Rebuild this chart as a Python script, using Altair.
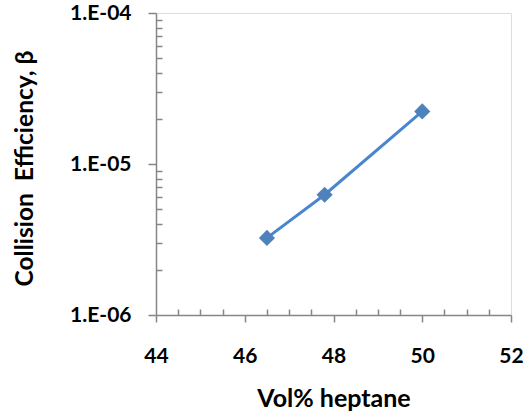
import altair as alt
import pandas as pd

vol_heptane = [46.5, 47.8, 50.0]
beta = [3.24e-6, 6.26e-6, 2.23e-5]

x_major = [44, 46, 48, 50, 52]
x_minor = [44.5, 45, 45.5, 46.5, 47, 47.5, 48.5, 49, 49.5, 50.5, 51, 51.5]
y_major = [1e-6, 1e-5, 1e-4]
y_minor = [m * 10.0 ** e for e in (-6, -5) for m in range(2, 10)]

df = pd.DataFrame({"x": vol_heptane, "y": beta})

FONT = "Lato"
AX = "#868686"
LINE = "#4A86D0"
MARK = "#4F81BD"

xscale = alt.Scale(domain=[44, 52], nice=False, zero=False)
yscale = alt.Scale(type="log", domain=[1e-6, 1e-4], nice=False)

base = alt.Chart(df)

line = base.mark_line(color=LINE, strokeWidth=3).encode(
    x=alt.X("x:Q", scale=xscale, axis=alt.Axis(
        orient="bottom",
        values=x_major, title="Vol% heptane", grid=False,
        domainColor=AX, domainWidth=1.5, tickColor=AX, tickWidth=1.5, tickSize=7,
        labelFont=FONT, labelFontWeight="bold", labelFontSize=21, labelColor="black",
        labelPadding=23, labelFlush=False,
        titleFont=FONT, titleFontWeight="bold", titleFontSize=25, titleColor="black",
        titleY=83, titleBaseline="middle")),
    y=alt.Y("y:Q", scale=yscale, axis=alt.Axis(
        orient="left",
        values=y_major, title="Collision\u00a0 Efficiency, β", grid=False,
        labelExpr="replace(format(datum.value, '.0e'), 'e-', '.E-0')",
        domainColor=AX, domainWidth=1.5, tickColor=AX, tickWidth=1.5, tickSize=8,
        labelFont=FONT, labelFontWeight="bold", labelFontSize=21, labelColor="black",
        labelPadding=17, labelFlush=False,
        titleFont=FONT, titleFontWeight="bold", titleFontSize=24.5, titleColor="black",
        titleX=-131, titleY=155, titleAngle=-90, titleBaseline="middle", titleAlign="center")),
)

points = base.mark_point(shape="diamond", filled=True, color=MARK, size=260, opacity=1).encode(
    x=alt.X("x:Q", scale=xscale, axis=None),
    y=alt.Y("y:Q", scale=yscale, axis=None),
)

minor_x = base.mark_point(opacity=0).encode(
    x=alt.X("x:Q", scale=xscale, axis=alt.Axis(
        values=x_minor, orient="bottom", offset=-6, tickSize=6, domain=False,
        labels=False, title=None, grid=False, tickColor=AX, tickWidth=1.5)),
)

minor_y = base.mark_point(opacity=0).encode(
    y=alt.Y("y:Q", scale=yscale, axis=alt.Axis(
        values=y_minor, orient="left", offset=-6, tickSize=6, domain=False,
        labels=False, title=None, grid=False, tickColor=AX, tickWidth=1.5)),
)

chart = alt.layer(minor_x, minor_y, line, points).resolve_axis(
    x="independent", y="independent"
).properties(
    width=355, height=302,
    autosize=alt.AutoSizeParams(type="none"),
    padding={"left": 156, "top": 13, "right": 18, "bottom": 102},
).configure_view(stroke="#3a3a3a", strokeWidth=1.5).configure(background="white")

chart.save("out.html", embed_options={"renderer": "svg", "actions": False})
